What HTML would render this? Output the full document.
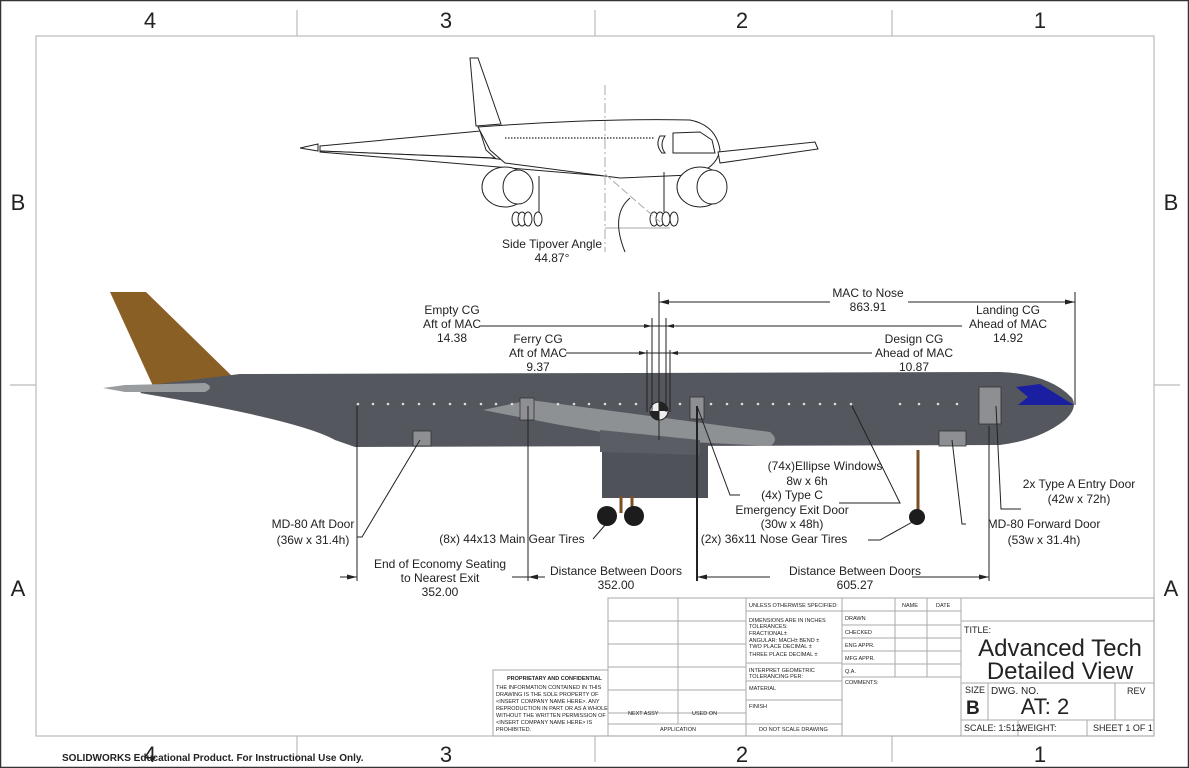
<!DOCTYPE html>
<html><head><meta charset="utf-8"><style>
html,body{margin:0;padding:0;background:#fff}
svg{display:block}
text{font-family:"Liberation Sans",sans-serif;fill:#222}
</style></head><body>
<svg width="1189" height="768" viewBox="0 0 1189 768" xmlns="http://www.w3.org/2000/svg">
<rect x="0.5" y="0.5" width="1188" height="767" fill="#fff" stroke="#333" stroke-width="1.5"/>
<rect x="36" y="36" width="1118" height="700" fill="none" stroke="#bbb" stroke-width="1.2"/>
<g stroke="#bbb" stroke-width="1.2">
<line x1="297" y1="10" x2="297" y2="36"/><line x1="595" y1="10" x2="595" y2="36"/><line x1="892" y1="10" x2="892" y2="36"/>
<line x1="297" y1="736" x2="297" y2="762"/><line x1="595" y1="736" x2="595" y2="762"/><line x1="892" y1="736" x2="892" y2="762"/>
<line x1="10" y1="385" x2="36" y2="385"/><line x1="1154" y1="385" x2="1180" y2="385"/>
</g>
<g font-size="22" text-anchor="middle">
<text x="150" y="28">4</text><text x="446" y="28">3</text><text x="742" y="28">2</text><text x="1040" y="28">1</text>
<text x="150" y="762">4</text><text x="446" y="762">3</text><text x="742" y="762">2</text><text x="1040" y="762">1</text>
<text x="18" y="210">B</text><text x="1171" y="210">B</text><text x="18" y="596">A</text><text x="1171" y="596">A</text>
</g>

<!-- Front view -->
<g fill="#fff" stroke="#222" stroke-width="1">
<path d="M470,58 L478,58 L501,124 L476,126 Z"/>
<path d="M320,146 L470,132 L480,131 L486,150 L495,158 L320,151 Z"/>
<path d="M318,144 L300,148 L318,151 Z"/>
<path d="M320,151 L490,158 L600,172 L605,176 L320,152 Z"/>
<path d="M478,127 Q600,118 690,120 Q716,125 720,150 Q716,170 690,175 L620,178 L505,163 L490,150 Z"/>
<path d="M718,152 L815,142 L818,149 L720,163 Z"/>
<path d="M673,133 L700,132 L712,140 L715,153 L673,153 Z"/>
<ellipse cx="505" cy="187" rx="23" ry="20"/><ellipse cx="518" cy="187" rx="15" ry="17"/>
<ellipse cx="700" cy="187" rx="23" ry="20"/><ellipse cx="712" cy="187" rx="15" ry="17"/>
<ellipse cx="516" cy="219" rx="4" ry="7"/><ellipse cx="522" cy="219" rx="4" ry="7"/><ellipse cx="528" cy="219" rx="4" ry="7"/><ellipse cx="538" cy="219" rx="4" ry="7"/>
<ellipse cx="654" cy="219" rx="4" ry="7"/><ellipse cx="660" cy="219" rx="4" ry="7"/><ellipse cx="666" cy="219" rx="4" ry="7"/><ellipse cx="674" cy="219" rx="4" ry="7"/>
<path d="M660,136 Q655,145 662,153 L665,153 Q659,145 665,136 Z"/>
<line x1="539" y1="176" x2="539" y2="212" /><line x1="664" y1="172" x2="664" y2="212"/>
</g>
<g stroke="#222" stroke-width="1.2" stroke-dasharray="1.5,1.5"><line x1="505" y1="138" x2="655" y2="138"/></g>
<line x1="605" y1="85" x2="605" y2="252" stroke="#aaa" stroke-dasharray="10,3,2,3"/>
<line x1="605" y1="174" x2="660" y2="222" stroke="#aaa" stroke-dasharray="8,3"/>
<line x1="605" y1="228" x2="670" y2="228" stroke="#aaa"/>
<path d="M630,198 Q610,215 625,252" fill="none" stroke="#222"/>
<text x="552" y="248" font-size="12" text-anchor="middle">Side Tipover Angle</text>
<text x="552" y="262" font-size="12" text-anchor="middle">44.87°</text>

<!-- Side view aircraft -->
<path d="M110,292 L146,292 L236,380 L153,386 Z" fill="#8a5f25"/>
<path d="M150,385 L240,374 L1000,372 Q1050,374 1072,398 Q1078,408 1065,420 Q1040,440 1000,445 L355,447 L335,440 Q300,420 140,393 Z" fill="#55575f"/>
<path d="M1016,387 L1040,384 L1074,405 L1018,405 L1028,397 Z" fill="#1a1ea0"/>
<path d="M103,388 L125,385 L205,383 Q215,387 205,392 L125,392 Z" fill="#9a9da0"/>
<rect x="602" y="440" width="106" height="58" fill="#50525a"/>
<path d="M483,410 L530,400 L620,412 L770,432 Q780,440 770,446 L650,440 L560,425 Z" fill="#8d9194"/>
<path d="M600,430 L700,440 L700,455 L600,452 Z" fill="#5b5d64"/>
<g stroke="#7a5025" stroke-width="3"><line x1="621" y1="496" x2="621" y2="513"/><line x1="632" y1="496" x2="632" y2="513"/><line x1="918" y1="450" x2="918" y2="510"/></g>
<g fill="#1c1c1c"><circle cx="607" cy="516" r="10"/><circle cx="634" cy="516" r="10"/><circle cx="917" cy="517" r="8"/></g>
<g fill="#ddd">
<circle cx="358" cy="404" r="1.3"/><circle cx="373" cy="404" r="1.3"/><circle cx="388" cy="404" r="1.3"/><circle cx="403" cy="404" r="1.3"/><circle cx="419" cy="404" r="1.3"/><circle cx="434" cy="404" r="1.3"/><circle cx="450" cy="404" r="1.3"/><circle cx="465" cy="404" r="1.3"/><circle cx="481" cy="404" r="1.3"/><circle cx="496" cy="404" r="1.3"/><circle cx="512" cy="404" r="1.3"/><circle cx="558" cy="404" r="1.3"/><circle cx="574" cy="404" r="1.3"/><circle cx="589" cy="404" r="1.3"/><circle cx="605" cy="404" r="1.3"/><circle cx="620" cy="404" r="1.3"/><circle cx="636" cy="404" r="1.3"/><circle cx="680" cy="404" r="1.3"/><circle cx="711" cy="404" r="1.3"/><circle cx="727" cy="404" r="1.3"/><circle cx="742" cy="404" r="1.3"/><circle cx="758" cy="404" r="1.3"/><circle cx="773" cy="404" r="1.3"/><circle cx="789" cy="404" r="1.3"/><circle cx="804" cy="404" r="1.3"/><circle cx="820" cy="404" r="1.3"/><circle cx="835" cy="404" r="1.3"/><circle cx="851" cy="404" r="1.3"/><circle cx="900" cy="404" r="1.3"/><circle cx="919" cy="404" r="1.3"/><circle cx="938" cy="404" r="1.3"/><circle cx="957" cy="404" r="1.3"/>
</g>
<g fill="#8e8f93" stroke="#333" stroke-width="0.8">
<rect x="413" y="431" width="18" height="15"/><rect x="520" y="398" width="14" height="22"/><rect x="690" y="397" width="14" height="22"/><rect x="939" y="431" width="27" height="15"/><rect x="979" y="387" width="22" height="37"/>
</g>
<circle cx="659" cy="411" r="9" fill="#eee" stroke="#222"/>
<path d="M659,411 L659,402 A9,9 0 0,1 668,411 Z M659,411 L659,420 A9,9 0 0,1 650,411 Z" fill="#222"/>

<!-- dimension lines -->
<g stroke="#222" stroke-width="1" fill="none">
<line x1="659" y1="292" x2="659" y2="440"/>
<line x1="1075" y1="292" x2="1075" y2="405"/>
<line x1="659" y1="302" x2="830" y2="302"/><line x1="908" y1="302" x2="1075" y2="302"/>
<line x1="480" y1="326" x2="962" y2="326"/>
<line x1="566" y1="353" x2="872" y2="353"/>
<line x1="652" y1="318" x2="652" y2="412"/><line x1="666" y1="318" x2="666" y2="412"/>
<line x1="647" y1="350" x2="647" y2="412"/><line x1="670" y1="350" x2="670" y2="412"/>
<line x1="357" y1="406" x2="357" y2="581"/><line x1="528" y1="406" x2="528" y2="581"/>
<line x1="697" y1="406" x2="697" y2="581" stroke-width="2"/><line x1="989" y1="426" x2="989" y2="581"/>
<line x1="340" y1="577" x2="357" y2="577"/><line x1="512" y1="577" x2="545" y2="577"/>
<line x1="697" y1="577" x2="770" y2="577"/><line x1="912" y1="577" x2="989" y2="577"/>
<polyline points="357,537 362,537 420,440"/>
<line x1="593" y1="539" x2="606" y2="524"/>
<polyline points="839,503 900,503 852,406"/>
<polyline points="740,495 730,495 697,406"/>
<polyline points="868,540 880,540 916,520"/>
<polyline points="966,524 962,524 952,440"/>
<polyline points="1021,509 1001,509 996,406"/>
</g>
<g fill="#222">
<path d="M659,302 l10,-2.5 v5Z"/><path d="M1075,302 l-10,-2.5 v5Z"/>
<path d="M357,577 l-10,-2.5 v5Z"/><path d="M528,577 l10,-2.5 v5Z"/>
<path d="M697,577 l10,-2.5 v5Z"/><path d="M989,577 l-10,-2.5 v5Z"/>
<path d="M652,326 l-8,-2 v4Z"/><path d="M666,326 l8,-2 v4Z"/>
<path d="M647,353 l-8,-2 v4Z"/><path d="M670,353 l8,-2 v4Z"/>
</g>
<g font-size="12" text-anchor="middle">
<text x="868" y="297">MAC to Nose</text><text x="868" y="311">863.91</text>
<text x="452" y="314">Empty CG</text><text x="452" y="328">Aft of MAC</text><text x="452" y="342">14.38</text>
<text x="538" y="343">Ferry CG</text><text x="538" y="357">Aft of MAC</text><text x="538" y="371">9.37</text>
<text x="1008" y="314">Landing CG</text><text x="1008" y="328">Ahead of MAC</text><text x="1008" y="342">14.92</text>
<text x="914" y="343">Design CG</text><text x="914" y="357">Ahead of MAC</text><text x="914" y="371">10.87</text>
<text x="313" y="528">MD-80 Aft Door</text><text x="313" y="544">(36w x 31.4h)</text>
<text x="512" y="543">(8x) 44x13 Main Gear Tires</text>
<text x="825" y="470">(74x)Ellipse Windows</text><text x="807" y="485">8w x 6h</text>
<text x="792" y="499">(4x) Type C</text><text x="792" y="514">Emergency Exit Door</text><text x="792" y="528">(30w x 48h)</text>
<text x="774" y="543">(2x) 36x11 Nose Gear Tires</text>
<text x="1044" y="528">MD-80 Forward Door</text><text x="1044" y="544">(53w x 31.4h)</text>
<text x="1079" y="488">2x Type A Entry Door</text><text x="1079" y="503">(42w x 72h)</text>
<text x="440" y="568">End of Economy Seating</text><text x="440" y="582">to Nearest Exit</text><text x="440" y="596">352.00</text>
<text x="616" y="575">Distance Between Doors</text><text x="616" y="589">352.00</text>
<text x="855" y="575">Distance Between Doors</text><text x="855" y="589">605.27</text>
</g>

<!-- title block -->
<g stroke="#aaa" stroke-width="1" fill="none">
<rect x="608" y="598" width="546" height="138"/>
<rect x="493" y="670" width="115" height="66"/>
<line x1="678" y1="598" x2="678" y2="724"/><line x1="746" y1="598" x2="746" y2="736"/><line x1="842" y1="598" x2="842" y2="736"/>
<line x1="608" y1="621" x2="746" y2="621"/><line x1="608" y1="644" x2="746" y2="644"/><line x1="608" y1="667" x2="746" y2="667"/><line x1="608" y1="690" x2="746" y2="690"/><line x1="608" y1="713" x2="746" y2="713"/><line x1="608" y1="724" x2="842" y2="724"/>
<line x1="746" y1="611" x2="842" y2="611"/><line x1="746" y1="663" x2="842" y2="663"/><line x1="746" y1="681" x2="842" y2="681"/><line x1="746" y1="700" x2="842" y2="700"/>
<line x1="895" y1="598" x2="895" y2="677"/><line x1="927" y1="598" x2="927" y2="677"/><line x1="961" y1="598" x2="961" y2="736"/>
<line x1="842" y1="611" x2="961" y2="611"/><line x1="842" y1="625" x2="961" y2="625"/><line x1="842" y1="638" x2="961" y2="638"/><line x1="842" y1="651" x2="961" y2="651"/><line x1="842" y1="664" x2="961" y2="664"/><line x1="842" y1="677" x2="961" y2="677"/>
<line x1="961" y1="621" x2="1154" y2="621"/><line x1="961" y1="683" x2="1154" y2="683"/><line x1="961" y1="720" x2="1154" y2="720"/>
<line x1="988" y1="683" x2="988" y2="720"/><line x1="1115" y1="683" x2="1115" y2="720"/><line x1="1018" y1="720" x2="1018" y2="736"/><line x1="1087" y1="720" x2="1087" y2="736"/>
</g>
<g font-size="5.5" fill="#333">
<text x="749" y="607">UNLESS OTHERWISE SPECIFIED:</text>
<text x="749" y="622">DIMENSIONS ARE IN INCHES</text><text x="749" y="628">TOLERANCES:</text><text x="749" y="635">FRACTIONAL±</text><text x="749" y="642">ANGULAR: MACH±   BEND ±</text><text x="749" y="648">TWO PLACE DECIMAL   ±</text><text x="749" y="656">THREE PLACE DECIMAL  ±</text>
<text x="749" y="672">INTERPRET GEOMETRIC</text><text x="749" y="678">TOLERANCING PER:</text>
<text x="749" y="690">MATERIAL</text><text x="749" y="708">FINISH</text><text x="759" y="731">DO NOT SCALE DRAWING</text>
<text x="845" y="620">DRAWN</text><text x="845" y="634">CHECKED</text><text x="845" y="647">ENG APPR.</text><text x="845" y="660">MFG APPR.</text><text x="845" y="673">Q.A.</text><text x="845" y="684">COMMENTS:</text>
<text x="902" y="607">NAME</text><text x="936" y="607">DATE</text>
<text x="628" y="715">NEXT ASSY</text><text x="692" y="715">USED ON</text><text x="660" y="731">APPLICATION</text>
<text x="507" y="680" font-weight="bold">PROPRIETARY AND CONFIDENTIAL</text>
<text x="496" y="689">THE INFORMATION CONTAINED IN THIS</text><text x="496" y="696">DRAWING IS THE SOLE PROPERTY OF</text><text x="496" y="703">&lt;INSERT COMPANY NAME HERE&gt;.  ANY</text><text x="496" y="710">REPRODUCTION IN PART OR AS A WHOLE</text><text x="496" y="717">WITHOUT THE WRITTEN PERMISSION OF</text><text x="496" y="724">&lt;INSERT COMPANY NAME HERE&gt; IS</text><text x="496" y="731">PROHIBITED.</text>
</g>
<text x="964" y="633" font-size="9">TITLE:</text>
<text x="1060" y="656" font-size="24" text-anchor="middle">Advanced Tech</text>
<text x="1060" y="679" font-size="24" text-anchor="middle">Detailed View</text>
<text x="965" y="693" font-size="9">SIZE</text><text x="966" y="714" font-size="19" font-weight="bold">B</text>
<text x="991" y="694" font-size="10">DWG.  NO.</text><text x="1045" y="714" font-size="22" text-anchor="middle">AT: 2</text>
<text x="1127" y="694" font-size="9">REV</text>
<text x="964" y="731" font-size="9">SCALE: 1:512</text><text x="1019" y="731" font-size="9">WEIGHT:</text><text x="1093" y="731" font-size="9">SHEET 1 OF 1</text>
<text x="62" y="761" font-size="10" font-weight="bold" fill="#111">SOLIDWORKS Educational Product. For Instructional Use Only.</text>
</svg>
</body></html>
